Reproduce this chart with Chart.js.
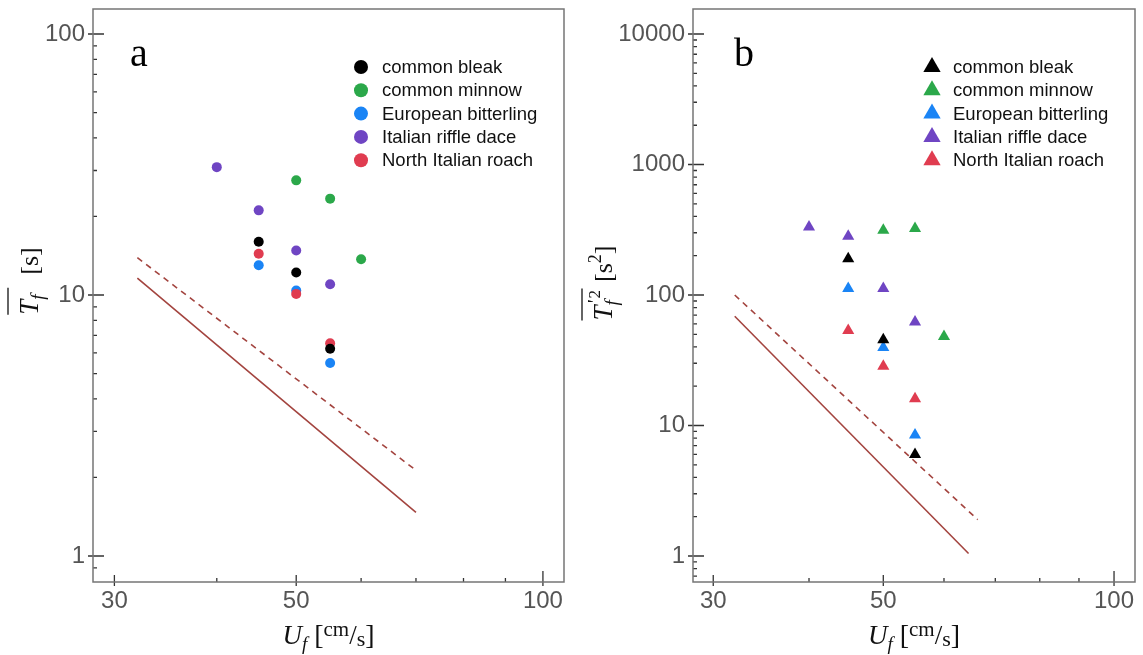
<!DOCTYPE html>
<html>
<head>
<meta charset="utf-8">
<script src="https://cdn.jsdelivr.net/npm/chart.js@4.4.1/dist/chart.umd.min.js"></script>
<style>
  html, body { margin: 0; padding: 0; background: #fff; }
  #wrap { position: relative; width: 1143px; height: 655px; }
  .panel { position: absolute; top: 0; height: 655px; }
  #pa { left: 0; width: 571px; }
  #pb { left: 571px; width: 572px; }
</style>
</head>
<body>
<div id="wrap">
  <div class="panel" id="pa"><canvas id="chartA"></canvas></div>
  <div class="panel" id="pb"><canvas id="chartB"></canvas></div>
</div>
<script>
const species = ['common bleak', 'common minnow', 'European bitterling', 'Italian riffle dace', 'North Italian roach'];
const speciesColors = ['#000000', '#2ba84a', '#1a84f5', '#6f45c3', '#e03c50'];
// draw order, lower = on top
const speciesOrder = [0, 2, 4, 3, 1];

// flow velocity U_f [cm/s]
const uBleak = [45, 50, 55];
const uMinnow = [50, 55, 60];
const uBitterling = [45, 50, 55];
const uDace = [40, 45, 50, 55];
const uRoach = [45, 50, 55];

// panel a: mean period T_f [s]
const tBleak = [16.0, 12.2, 6.22];
const tMinnow = [27.5, 23.4, 13.7];
const tBitterling = [13.0, 10.4, 5.49];
const tDace = [30.9, 21.1, 14.8, 11.0];
const tRoach = [14.4, 10.1, 6.53];

// panel b: variance T'_f^2 [s^2]
const vBleak = [190, 45.5, 6.0];
const vMinnow = [313, 324, 48];
const vBitterling = [112, 39.6, 8.45];
const vDace = [332, 282, 112, 62];
const vRoach = [53.5, 28.4, 16.0];

// reference lines
const uSolidA = [32, 70];   const tSolidA = [11.6, 1.47];
const uDashA = [32, 70];    const tDashA = [13.9, 2.13];
const uSolidB = [32, 64.6]; const vSolidB = [68.7, 1.045];
const uDashB = [32, 66.4];  const vDashB = [100, 1.9];

const xTicks = [30, 40, 50, 60, 70, 80, 90, 100];
const xLabels = [30, 50, 100];
const yTicksA = [0.9, 1, 2, 3, 4, 5, 6, 7, 8, 9, 10, 20, 30, 40, 50, 60, 70, 80, 90, 100];
const yLabelsA = [1, 10, 100];
const yTicksB = [0.7, 0.8, 0.9, 1, 2, 3, 4, 5, 6, 7, 8, 9, 10, 20, 30, 40, 50, 60, 70, 80, 90,
  100, 200, 300, 400, 500, 600, 700, 800, 900, 1000, 2000, 3000, 4000, 5000, 6000, 7000, 8000, 9000, 10000];
const yLabelsB = [1, 10, 100, 1000, 10000];

const lineColor = '#a3443f';
const serif = "'Liberation Serif', 'Times New Roman', serif";
const sans = "'Liberation Sans', Arial, sans-serif";

function pts(xs, ys) {
  return xs.map((x, i) => ({ x: x, y: ys[i] }));
}

function richWidth(ctx, parts) {
  let w = 0;
  parts.forEach(p => {
    ctx.font = p.font;
    if (!p.stack) w += p.w != null ? p.w : ctx.measureText(p.t).width;
  });
  return w;
}

function drawRich(ctx, parts, x0, y0, overY) {
  let cx = x0, oStart = null, oEnd = null;
  parts.forEach(p => {
    ctx.font = p.font;
    ctx.fillText(p.t, cx + (p.dx || 0), y0 + (p.dy || 0));
    const w = ctx.measureText(p.t).width;
    if (p.over) {
      if (oStart === null) oStart = cx;
      oEnd = cx + (p.w != null ? p.w : w);
    }
    if (!p.stack) cx += p.w != null ? p.w : w;
  });
  if (oStart !== null) {
    ctx.lineWidth = 1.3;
    ctx.beginPath();
    ctx.moveTo(oStart, y0 + overY);
    ctx.lineTo(oEnd, y0 + overY);
    ctx.stroke();
  }
}

const axisDecor = {
  id: 'axisDecor',
  beforeDatasetsDraw(chart, args, opts) {
    const { ctx, chartArea: a, scales: { x, y } } = chart;
    ctx.save();
    ctx.strokeStyle = '#333';
    ctx.lineWidth = 1.3;
    ctx.beginPath();
    x.ticks.forEach(t => {
      const px = x.getPixelForValue(t.value);
      const big = xLabels.includes(t.value);
      const inn = t.value === 100 ? 11 : (big ? 7 : 4);
      ctx.moveTo(px, a.bottom + (big ? 4 : 0));
      ctx.lineTo(px, a.bottom - inn);
    });
    y.ticks.forEach(t => {
      const py = y.getPixelForValue(t.value);
      const big = opts.major.includes(t.value);
      ctx.moveTo(a.left - (big ? 5 : 0), py);
      ctx.lineTo(a.left + (big ? 11 : 4), py);
    });
    ctx.stroke();
    ctx.strokeStyle = '#757575';
    ctx.lineWidth = 1.5;
    ctx.strokeRect(a.left, a.top, a.right - a.left, a.bottom - a.top);
    ctx.restore();
  },
  afterDraw(chart, args, opts) {
    const { ctx, chartArea: a } = chart;
    ctx.save();
    ctx.fillStyle = '#000';
    ctx.strokeStyle = '#000';
    // panel letter
    ctx.font = '40px ' + serif;
    ctx.textAlign = 'center';
    ctx.textBaseline = 'alphabetic';
    ctx.fillText(opts.letter, opts.letterX, 66);

    // legend
    ctx.textAlign = 'left';
    ctx.textBaseline = 'middle';
    ctx.font = '18.5px ' + sans;
    species.forEach((name, i) => {
      const ly = 67 + i * 23.3;
      ctx.fillStyle = speciesColors[i];
      ctx.beginPath();
      if (opts.marker === 'triangle') {
        const r = 10;
        ctx.moveTo(361, ly - r);
        ctx.lineTo(361 + r * 0.866, ly + r * 0.5);
        ctx.lineTo(361 - r * 0.866, ly + r * 0.5);
        ctx.closePath();
      } else {
        ctx.arc(361, ly, 7, 0, Math.PI * 2);
      }
      ctx.fill();
      ctx.fillStyle = '#111';
      ctx.fillText(name, 382, ly + 1);
    });

    // x title
    ctx.fillStyle = '#111';
    ctx.strokeStyle = '#111';
    ctx.textBaseline = 'alphabetic';
    ctx.textAlign = 'left';
    const xt = [
      { t: 'U', font: 'italic 27px ' + serif },
      { t: 'f', font: 'italic 19px ' + serif, dy: 6 },
      { t: ' [', font: '28px ' + serif },
      { t: 'cm', font: '21px ' + serif, dy: -8 },
      { t: '/', font: '27px ' + serif },
      { t: 's', font: '22px ' + serif, dy: 2 },
      { t: ']', font: '28px ' + serif }
    ];
    const xw = richWidth(ctx, xt);
    drawRich(ctx, xt, (a.left + a.right) / 2 - xw / 2, 644, 0);

    // y title, rotated
    ctx.translate(opts.yTitleX, opts.yTitleY);
    ctx.rotate(-Math.PI / 2);
    const yw = richWidth(ctx, opts.yTitle);
    drawRich(ctx, opts.yTitle, -yw / 2, 0, -30);
    ctx.restore();
  }
};

function makePanel(id, cfg) {
  const datasets = cfg.series.map((s, i) => ({
    label: species[i],
    data: pts(s[0], s[1]),
    pointStyle: cfg.marker,
    pointRadius: cfg.radius,
    backgroundColor: speciesColors[i],
    borderColor: speciesColors[i],
    borderWidth: 0,
    order: speciesOrder[i]
  }));
  datasets.push({
    label: 'solid',
    data: pts(cfg.solid[0], cfg.solid[1]),
    showLine: true, pointRadius: 0,
    borderColor: lineColor, borderWidth: 1.6, order: 10
  });
  datasets.push({
    label: 'dashed',
    data: pts(cfg.dashed[0], cfg.dashed[1]),
    showLine: true, pointRadius: 0,
    borderColor: lineColor, borderWidth: 1.6, borderDash: [6, 5], order: 10
  });

  return new Chart(document.getElementById(id), {
    type: 'scatter',
    data: { datasets: datasets },
    options: {
      responsive: true,
      maintainAspectRatio: false,
      animation: false,
      events: [],
      layout: { padding: { top: 9, right: cfg.padRight, left: 0, bottom: 0 } },
      plugins: {
        legend: { display: false },
        tooltip: { enabled: false },
        axisDecor: {
          major: cfg.yLabels,
          letter: cfg.letter,
          letterX: cfg.letterX,
          marker: cfg.marker,
          yTitle: cfg.yTitle,
          yTitleX: cfg.yTitleX,
          yTitleY: cfg.yTitleY
        }
      },
      scales: {
        x: {
          type: 'logarithmic',
          bounds: 'data',
          min: cfg.xMin, max: cfg.xMax,
          afterBuildTicks: s => { s.ticks = xTicks.map(v => ({ value: v })); },
          afterFit: s => {
            s.height = 73;
            s.paddingLeft = 0; s.paddingRight = 0;
          },
          grid: { display: false, drawTicks: false },
          border: { display: false },
          ticks: {
            autoSkip: false, maxRotation: 0, padding: 5,
            color: '#555', font: { family: sans, size: 24 },
            callback: v => xLabels.includes(v) ? String(v) : ''
          }
        },
        y: {
          type: 'logarithmic',
          bounds: 'data',
          min: cfg.yMin, max: cfg.yMax,
          afterBuildTicks: s => { s.ticks = cfg.yTicks.map(v => ({ value: v })); },
          afterFit: s => {
            s.width = cfg.yWidth;
            s.paddingTop = 0; s.paddingBottom = 0;
          },
          grid: { display: false, drawTicks: false },
          border: { display: false },
          ticks: {
            autoSkip: false, padding: 8,
            color: '#555', font: { family: sans, size: 24 },
            callback: v => cfg.yLabels.includes(v) ? String(v) : ''
          }
        }
      }
    },
    plugins: [axisDecor]
  });
}

makePanel('chartA', {
  series: [[uBleak, tBleak], [uMinnow, tMinnow], [uBitterling, tBitterling], [uDace, tDace], [uRoach, tRoach]],
  solid: [uSolidA, tSolidA],
  dashed: [uDashA, tDashA],
  marker: 'circle', radius: 5,
  xMin: 28.25, xMax: 106.1,
  yMin: 0.795, yMax: 124.7,
  yTicks: yTicksA, yLabels: yLabelsA,
  yWidth: 93, padRight: 7,
  letter: 'a', letterX: 139,
  yTitleX: 38, yTitleY: 281,
  yTitle: [
    { t: 'T', font: 'italic 27px ' + serif, over: true },
    { t: 'f', font: 'italic 19px ' + serif, dy: 6, over: true, w: 12 },
    { t: '  [s]', font: '26px ' + serif }
  ]
});

makePanel('chartB', {
  series: [[uBleak, vBleak], [uMinnow, vMinnow], [uBitterling, vBitterling], [uDace, vDace], [uRoach, vRoach]],
  solid: [uSolidB, vSolidB],
  dashed: [uDashB, vDashB],
  marker: 'triangle', radius: 7,
  xMin: 28.23, xMax: 106.5,
  yMin: 0.632, yMax: 15550,
  yTicks: yTicksB, yLabels: yLabelsB,
  yWidth: 122, padRight: 8,
  letter: 'b', letterX: 173,
  yTitleX: 41, yTitleY: 283,
  yTitle: [
    { t: 'T', font: 'italic 27px ' + serif, over: true },
    { t: "'", font: 'italic 20px ' + serif, dy: -10, dx: 1, stack: true },
    { t: '2', font: '17px ' + serif, dy: -12, dx: 7, stack: true },
    { t: 'f', font: 'italic 19px ' + serif, dy: 6, over: true, w: 17 },
    { t: ' [s', font: '26px ' + serif },
    { t: '2', font: '18px ' + serif, dy: -11 },
    { t: ']', font: '26px ' + serif }
  ]
});
</script>
</body>
</html>
